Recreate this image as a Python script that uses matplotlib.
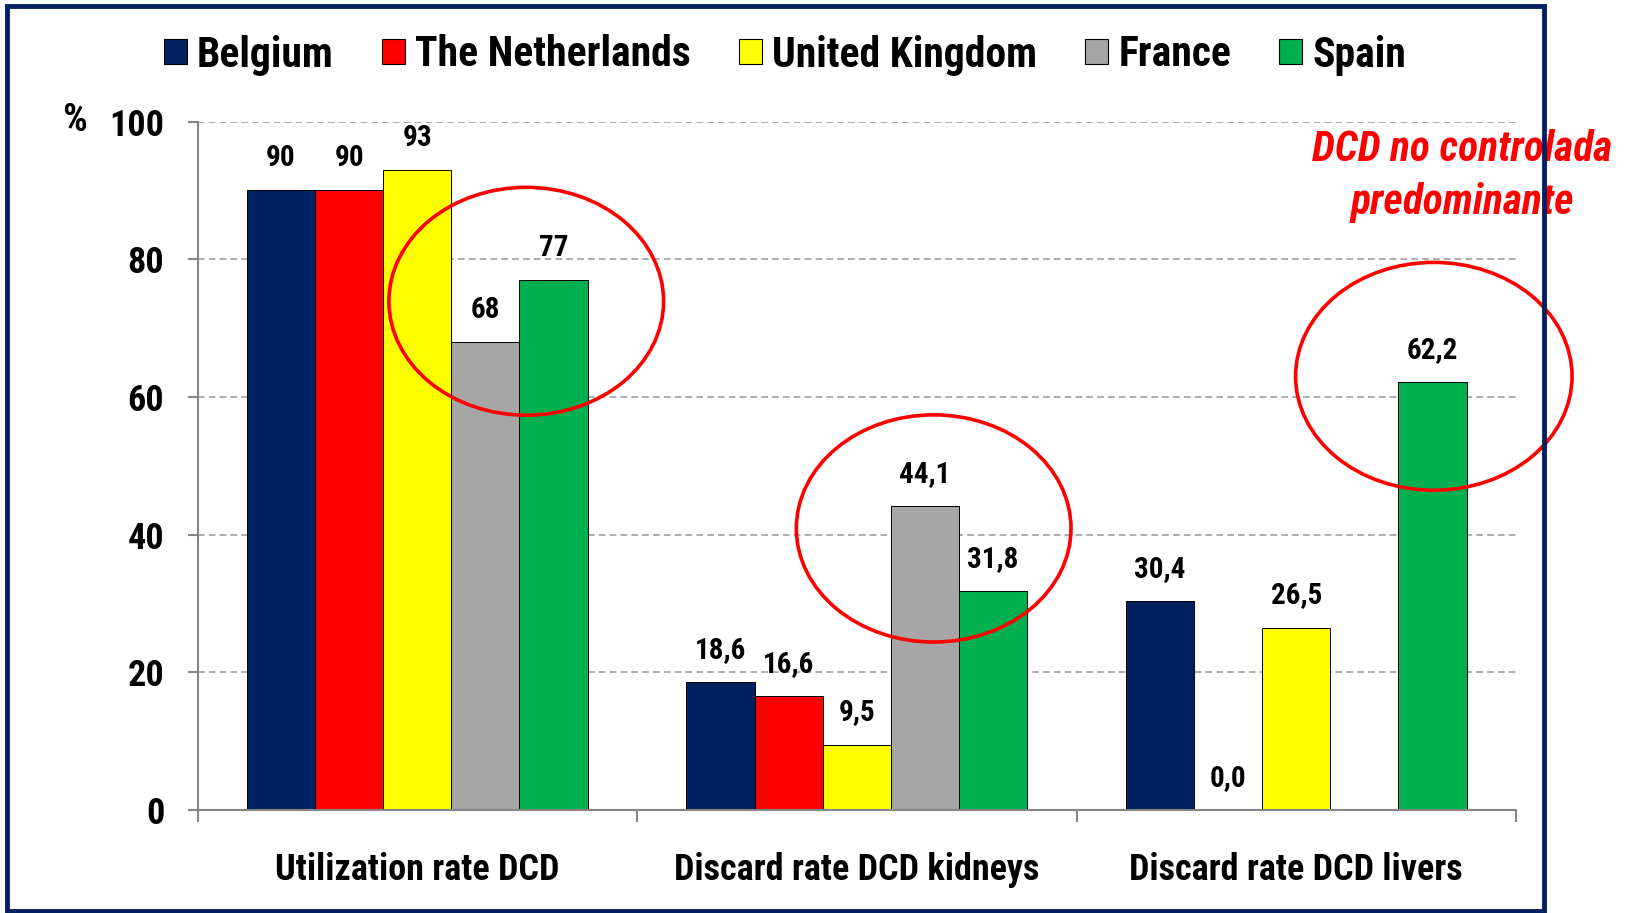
import numpy as np
import matplotlib.pyplot as plt
from matplotlib.patches import Rectangle, Ellipse

CATEGORIES = ['Utilization rate DCD', 'Discard rate DCD kidneys', 'Discard rate DCD livers']
COUNTRIES = ['Belgium', 'The Netherlands', 'United Kingdom', 'France', 'Spain']
COLORS = ['#002060', '#FF0000', '#FFFF00', '#A6A6A6', '#00B050']
VALUES = {
    'Belgium': [90, 18.6, 30.4],
    'The Netherlands': [90, 16.6, 0.0],
    'United Kingdom': [93, 9.5, 26.5],
    'France': [68, 44.1, np.nan],
    'Spain': [77, 31.8, 62.2],
}
DECIMALS = [0, 1, 1]
Y_TICKS = [0, 20, 40, 60, 80, 100]

FONT = ['Roboto Condensed', 'DejaVu Sans']
W, H = 1630, 913


def fmt(v, dec):
    return f'{v:.{dec}f}'.replace('.', ',')


fig = plt.figure(figsize=(W / 100, H / 100), dpi=100)
ax = fig.add_axes([197.5 / W, 1 - 810 / H, (1516 - 197.5) / W, (810 - 121.6) / H])

x = np.arange(len(CATEGORIES))
bw = 0.155
for i, (name, color) in enumerate(zip(COUNTRIES, COLORS)):
    vals = np.array(VALUES[name], dtype=float)
    pos = x + (i - 2) * bw
    ax.bar(pos, vals, bw, color=color, edgecolor='black', linewidth=0.7, zorder=2)
    for px, v, dec in zip(pos, vals, DECIMALS):
        if np.isnan(v):
            continue
        ax.annotate(fmt(v, dec), (px, v), xytext=(0, 13), textcoords='offset points',
                    ha='center', va='bottom', fontsize=21, fontweight='bold', family=FONT)

ax.set_xlim(-0.5, 2.5)
ax.set_ylim(0, 100)
ax.set_yticks(Y_TICKS)
ax.set_yticklabels([str(t) for t in Y_TICKS], fontsize=26, fontweight='bold', family=FONT)
ax.yaxis.grid(True, color='#A0A0A0', linestyle=(0, (4, 2.5)), linewidth=1.2)
ax.set_axisbelow(True)
ax.tick_params(axis='y', length=7, width=1.5, color='#868686', pad=17)

ax.set_xticks(x)
ax.set_xticklabels(CATEGORIES, fontsize=26, fontweight='bold', family=FONT)
ax.set_xticks(np.arange(-0.5, 3, 1), minor=True)
ax.tick_params(axis='x', which='major', length=0, pad=30)
ax.tick_params(axis='x', which='minor', length=8.5, width=1.5, color='#868686')

for s in ['top', 'right']:
    ax.spines[s].set_visible(False)
for s in ['left', 'bottom']:
    ax.spines[s].set_color('#868686')
    ax.spines[s].set_linewidth(1.5)

# highlight circles
for cx, cy, ew, eh in [(0.248, 73.9, 0.625, 33.1), (1.175, 40.9, 0.625, 33.0), (2.313, 63.0, 0.629, 33.1)]:
    ax.add_patch(Ellipse((cx, cy), ew, eh, fill=False, edgecolor='#FF0000', linewidth=2.6,
                         zorder=4, clip_on=False))

fig.text(75 / W, 1 - 120 / H, '%', fontsize=28, fontweight='bold', family=FONT,
         ha='center', va='center')

fig.text(1462 / W, 1 - 176 / H, 'DCD no controlada\npredominante', color='#FF0000',
         fontsize=30, fontweight='bold', style='italic', family=FONT,
         ha='center', va='center', linespacing=1.38)

handles = [Rectangle((0, 0), 1, 1, facecolor=c, edgecolor='black', linewidth=0.8) for c in COLORS]
fig.legend(handles, COUNTRIES, loc='center', bbox_to_anchor=(785 / W, 1 - 55 / H), ncol=5,
           frameon=False, prop={'family': FONT, 'weight': 'bold', 'size': 30},
           handlelength=0.55, handleheight=0.55, handletextpad=0.25, columnspacing=1.15)

fig.patches.append(Rectangle((7 / W, 2 / H), (1544 - 7) / W, (911 - 6) / H, transform=fig.transFigure,
                             fill=False, edgecolor='#002060', linewidth=3.5, zorder=5))

fig.savefig('out.png', dpi=100)
